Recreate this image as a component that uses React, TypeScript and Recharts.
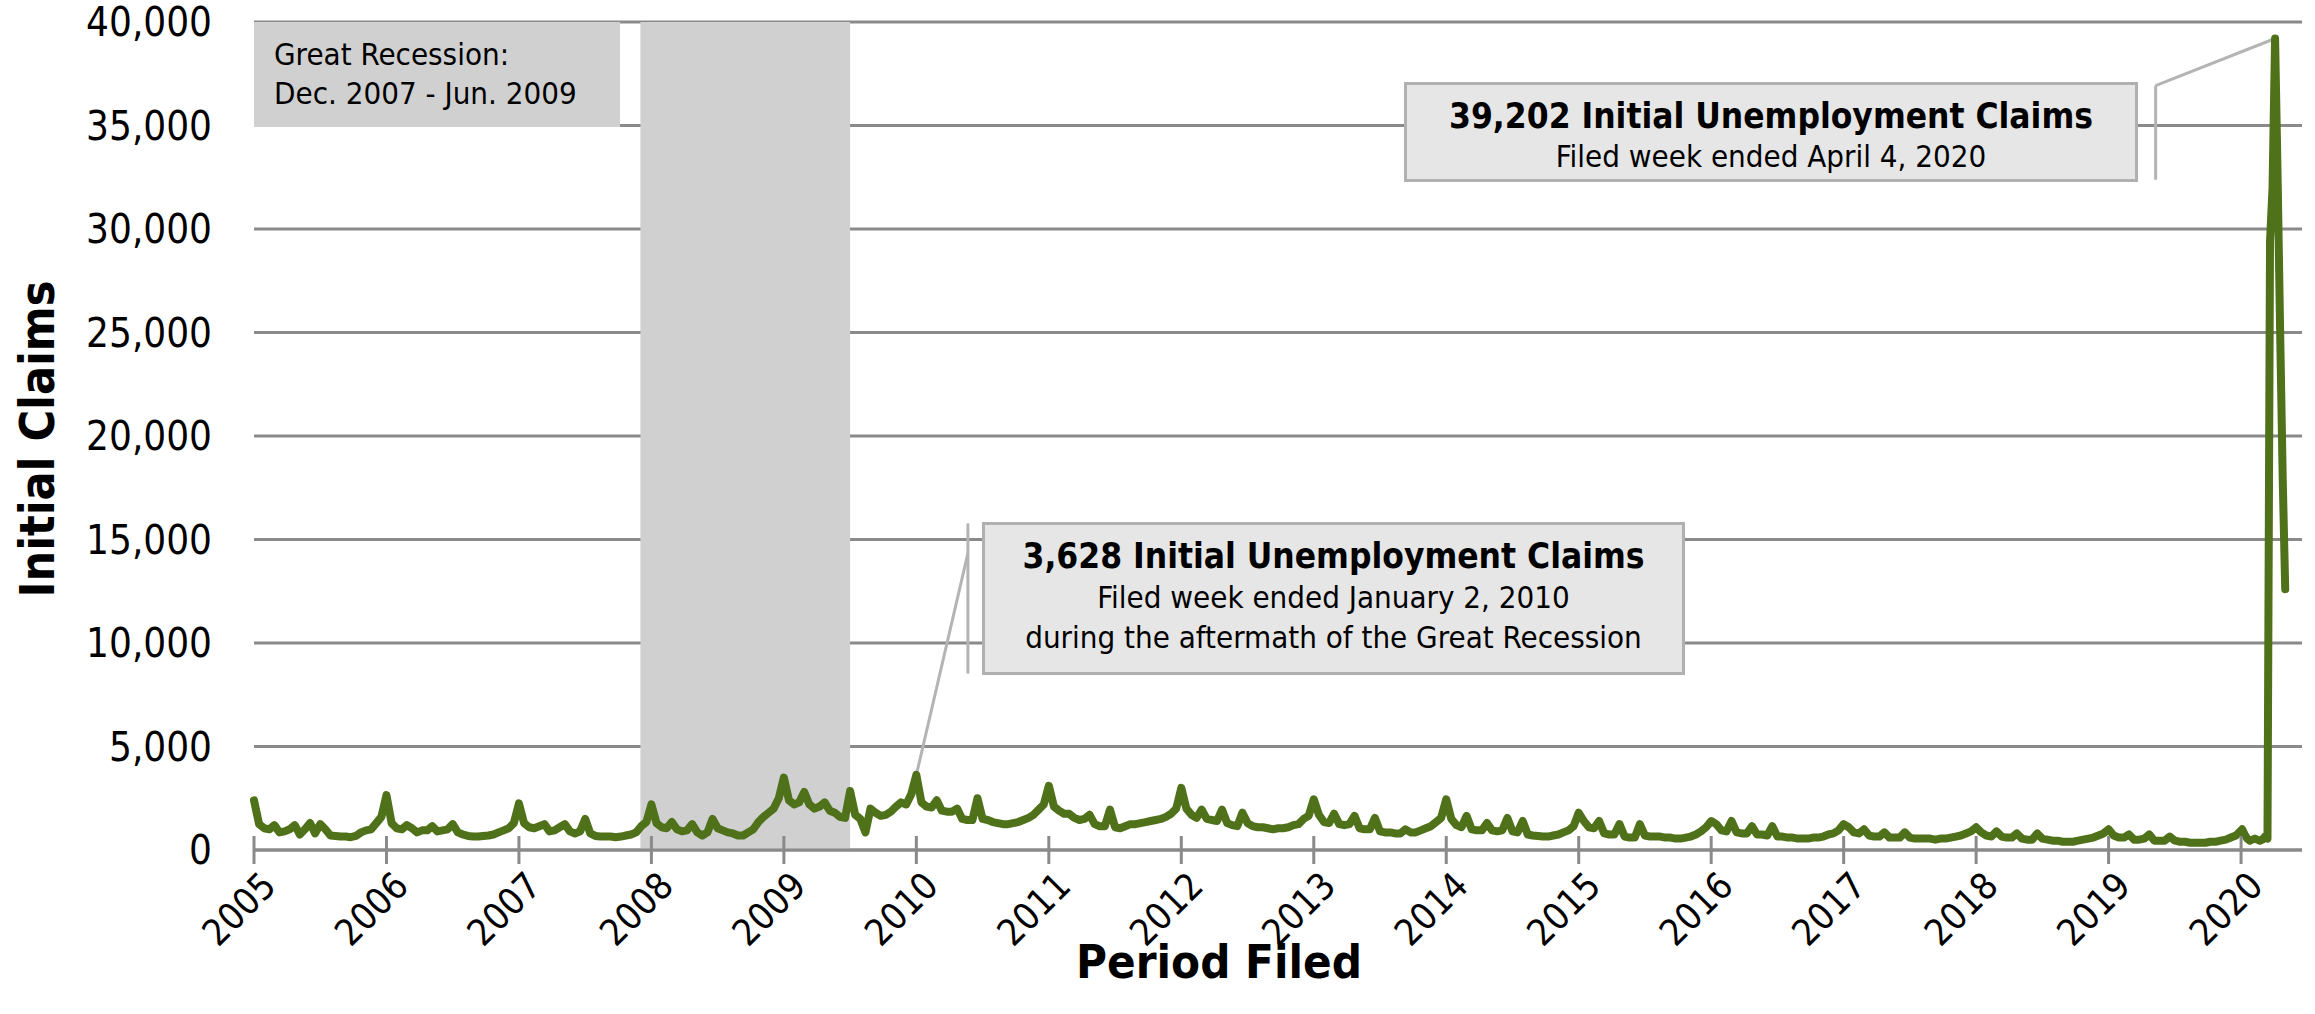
import React from 'react';
import {
  CartesianGrid,
  Line,
  LineChart,
  ReferenceArea,
  ReferenceLine,
  XAxis,
  YAxis,
} from 'recharts';

// Biweekly readings per year (index 0 = first week of January)
const years = [2005, 2006, 2007, 2008, 2009, 2010, 2011, 2012, 2013, 2014, 2015, 2016, 2017, 2018, 2019];
const claims2005 = [2400, 1250, 1050, 1000, 1200, 850, 900, 1000, 1200, 750, 1000, 1300, 800, 1250, 1000, 700, 680, 650, 650, 620, 680, 850, 950, 1000, 1300, 1600];
const claims2006 = [2650, 1300, 1050, 1000, 1200, 1050, 850, 950, 950, 1150, 900, 950, 1000, 1250, 850, 750, 680, 650, 650, 680, 700, 750, 850, 950, 1050, 1300];
const claims2007 = [2250, 1300, 1100, 1050, 1150, 1250, 900, 950, 1100, 1250, 900, 800, 900, 1500, 800, 680, 650, 650, 650, 620, 650, 700, 750, 850, 1150, 1350];
const claims2008 = [2200, 1300, 1100, 1050, 1350, 1000, 900, 950, 1250, 850, 700, 850, 1500, 1050, 950, 850, 800, 700, 700, 850, 1000, 1350, 1600, 1800, 2000, 2500];
const claims2009 = [3500, 2400, 2200, 2300, 2800, 2200, 2000, 2100, 2300, 1900, 1800, 1600, 1550, 2850, 1700, 1500, 850, 2000, 1800, 1650, 1700, 1850, 2100, 2300, 2200, 2700];
const claims2010 = [3628, 2300, 2100, 2050, 2400, 1900, 1850, 1850, 2000, 1500, 1450, 1450, 2500, 1500, 1450, 1350, 1300, 1250, 1250, 1300, 1350, 1450, 1550, 1700, 1950, 2200];
const claims2011 = [3100, 2100, 1900, 1750, 1750, 1550, 1450, 1500, 1700, 1250, 1150, 1150, 1950, 1100, 1050, 1150, 1250, 1250, 1300, 1350, 1400, 1450, 1500, 1600, 1750, 2000];
const claims2012 = [3000, 2000, 1700, 1550, 1950, 1500, 1450, 1400, 1950, 1300, 1200, 1150, 1800, 1300, 1150, 1100, 1100, 1050, 1000, 1050, 1050, 1100, 1200, 1250, 1500, 1650];
const claims2013 = [2450, 1700, 1350, 1300, 1750, 1250, 1200, 1250, 1650, 1050, 1000, 1000, 1550, 900, 850, 850, 800, 800, 1000, 850, 850, 950, 1050, 1150, 1350, 1550];
const claims2014 = [2450, 1500, 1200, 1100, 1650, 1000, 950, 950, 1300, 950, 900, 950, 1550, 900, 850, 1400, 750, 700, 680, 650, 650, 700, 750, 850, 950, 1150];
const claims2015 = [1800, 1400, 1100, 1050, 1400, 800, 750, 750, 1250, 650, 600, 600, 1250, 700, 650, 650, 650, 600, 600, 550, 550, 600, 650, 750, 900, 1100];
const claims2016 = [1400, 1250, 950, 900, 1400, 850, 800, 800, 1150, 750, 750, 700, 1150, 650, 650, 600, 600, 550, 550, 550, 600, 600, 650, 750, 800, 950];
const claims2017 = [1250, 1100, 850, 800, 1000, 700, 650, 650, 850, 600, 600, 600, 850, 600, 550, 550, 550, 550, 500, 550, 550, 600, 650, 700, 800, 900];
const claims2018 = [1100, 850, 700, 650, 900, 650, 600, 600, 800, 550, 500, 500, 800, 550, 500, 450, 450, 400, 400, 400, 450, 500, 550, 600, 700, 800];
const claims2019 = [1000, 700, 600, 600, 750, 500, 500, 550, 750, 450, 450, 450, 650, 450, 400, 400, 350, 350, 350, 350, 400, 400, 450, 500, 600, 700];
// 2020 weekly, weeks ended Jan 4 .. May 2
const claims2020 = [1000, 750, 550, 450, 500, 550, 500, 450, 500, 650, 550, 29400, 32000, 39202, 32500, 25000, 18000, 12600];

const yearTicks = [2005, 2006, 2007, 2008, 2009, 2010, 2011, 2012, 2013, 2014, 2015, 2016, 2017, 2018, 2019, 2020];
const claimTicks = [0, 5000, 10000, 15000, 20000, 25000, 30000, 35000, 40000];

const recession = { start: 2007.917, end: 2009.5 };
// callout connectors, in data units
const peakCallout = { x: 2020.257, y: 39202, barX: 2019.355, barTop: 36930, barBottom: 32380 };
const aftermathCallout = { x: 2010.0, y: 3628, barX: 2010.389, joinY: 14330, barTop: 15780, barBottom: 8520 };

const yearly = [claims2005, claims2006, claims2007, claims2008, claims2009, claims2010, claims2011, claims2012, claims2013, claims2014, claims2015, claims2016, claims2017, claims2018, claims2019];

const data = [
  ...yearly.flatMap((arr, k) => arr.map((v, i) => ({ t: years[k] + i / 26, claims: v }))),
  ...claims2020.map((v, k) => ({ t: 2020 + (3 + 7 * k) / 366, claims: v })),
];

const FONT = '"DejaVu Sans Condensed", "DejaVu Sans", sans-serif';
const GRID = '#8a8a8a';
const GREEN = '#4e7119';
const LEADER = '#b4b4b4';

const fmt = (v: number) => new Intl.NumberFormat('en-US').format(v);

const YearTick = (props: any) => {
  const { x, y, payload } = props;
  const ax = x + 24;
  const ay = y + 38;
  return (
    <g>
      <line x1={x} x2={x} y1={y - 14} y2={y + 14} stroke={GRID} strokeWidth={3} />
      <text
        x={ax}
        y={ay}
        transform={`rotate(-45, ${ax}, ${ay})`}
        textAnchor="end"
        fontSize={37}
        fontFamily={FONT}
        fontStretch="condensed"
        fill="#000"
      >
        {payload.value}
      </text>
    </g>
  );
};

export default function App() {
  return (
    <div style={{ position: 'absolute', left: 0, top: 0, width: 2315, height: 1014, background: '#fff' }}>
      <LineChart width={2315} height={1014} data={data} margin={{ top: 22, right: 13, bottom: 0, left: 0 }}>
        <CartesianGrid vertical={false} stroke={GRID} strokeWidth={3} />
        <ReferenceArea x1={recession.start} x2={recession.end} fill="#d0d0d0" fillOpacity={1} stroke="none" />
        <XAxis
          dataKey="t"
          type="number"
          domain={[2005, 2020.46]}
          ticks={yearTicks}
          interval={0}
          height={164}
          tickSize={0}
          tickMargin={0}
          tickLine={false}
          axisLine={{ stroke: GRID, strokeWidth: 3 }}
          tick={(p: any) => <YearTick {...p} />}
        />
        <YAxis
          type="number"
          domain={[0, 40000]}
          ticks={claimTicks}
          interval={0}
          width={254}
          tickSize={0}
          tickMargin={42}
          tickLine={false}
          axisLine={false}
          tickFormatter={fmt}
          tick={{ fontSize: 40, fill: '#000', fontFamily: FONT, fontStretch: 'condensed' }}
        />
        <ReferenceLine
          segment={[{ x: peakCallout.x, y: peakCallout.y }, { x: peakCallout.barX, y: peakCallout.barTop }]}
          stroke={LEADER}
          strokeWidth={3}
        />
        <ReferenceLine
          segment={[{ x: peakCallout.barX, y: peakCallout.barTop }, { x: peakCallout.barX, y: peakCallout.barBottom }]}
          stroke={LEADER}
          strokeWidth={3}
        />
        <ReferenceLine
          segment={[{ x: aftermathCallout.x, y: aftermathCallout.y }, { x: aftermathCallout.barX, y: aftermathCallout.joinY }]}
          stroke={LEADER}
          strokeWidth={3}
        />
        <ReferenceLine
          segment={[{ x: aftermathCallout.barX, y: aftermathCallout.barTop }, { x: aftermathCallout.barX, y: aftermathCallout.barBottom }]}
          stroke={LEADER}
          strokeWidth={3}
        />
        <Line
          type="linear"
          dataKey="claims"
          stroke={GREEN}
          strokeWidth={8}
          strokeLinejoin="round"
          strokeLinecap="round"
          dot={false}
          activeDot={false}
          isAnimationActive={false}
        />
      </LineChart>

      <svg
        width={2315}
        height={1014}
        style={{ position: 'absolute', left: 0, top: 0, pointerEvents: 'none' }}
        fontFamily={FONT}
        fontStretch="condensed"
      >
        <rect x={254} y={22} width={366} height={105} fill="#d0d0d0" />
        <text x={274} y={65} fontSize={31} fill="#000">Great Recession:</text>
        <text x={274} y={104} fontSize={31} fill="#000">Dec. 2007 - Jun. 2009</text>

        <rect x={1405.5} y={83.5} width={731} height={97} fill="#e6e6e6" stroke="#b0b0b0" strokeWidth={3} />
        <text x={1771} y={128} fontSize={35} fontWeight="bold" textAnchor="middle" fill="#000">39,202 Initial Unemployment Claims</text>
        <text x={1771} y={167} fontSize={31} textAnchor="middle" fill="#000">Filed week ended April 4, 2020</text>

        <rect x={983.5} y={523.5} width={700} height={150} fill="#e6e6e6" stroke="#b0b0b0" strokeWidth={3} />
        <text x={1333.5} y={568} fontSize={35} fontWeight="bold" textAnchor="middle" fill="#000">3,628 Initial Unemployment Claims</text>
        <text x={1333.5} y={608} fontSize={31} textAnchor="middle" fill="#000">Filed week ended January 2, 2010</text>
        <text x={1333.5} y={648} fontSize={31} textAnchor="middle" fill="#000">during the aftermath of the Great Recession</text>

        <text
          x={37}
          y={439}
          transform="rotate(-90, 37, 439)"
          fontSize={48}
          fontWeight="bold"
          textAnchor="middle"
          dominantBaseline="central"
          fill="#000"
        >
          Initial Claims
        </text>
        <text x={1219} y={978} fontSize={47} fontWeight="bold" textAnchor="middle" fill="#000">Period Filed</text>
      </svg>
    </div>
  );
}
